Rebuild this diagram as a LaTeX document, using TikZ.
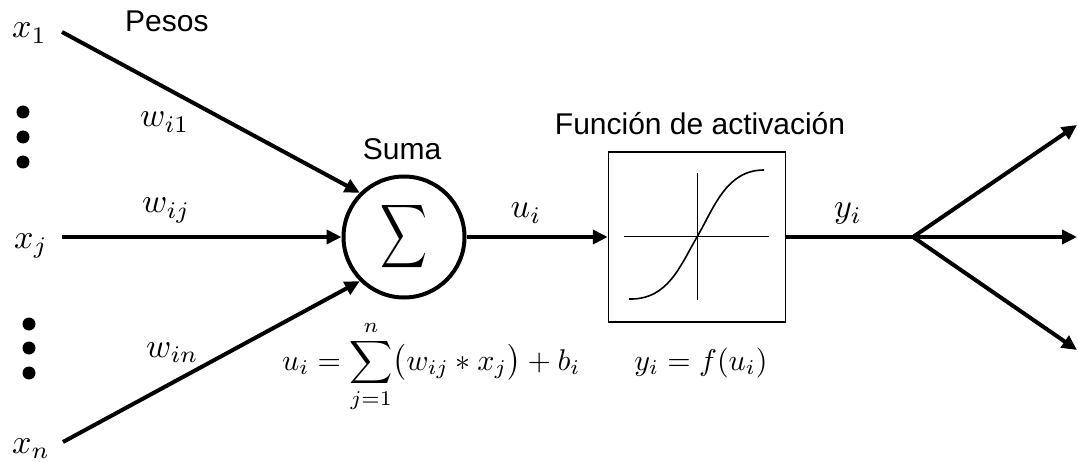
\documentclass[tikz,border=0pt]{standalone}
\usepackage[no-math]{fontspec}
\usepackage{graphicx}
\setmainfont{Liberation Sans}
\usetikzlibrary{arrows.meta}
\newcommand{\mth}[1]{\scalebox{3.0}{$#1$}}
\newcommand{\mlab}[1]{\scalebox{3.4}{$#1$}}
\begin{document}
\begin{tikzpicture}[x=1pt,y=-1pt,
  conn/.style={line width=4pt,-{Triangle[length=15pt,width=14pt]}},
  plain/.style={line width=4pt},
  mlbl/.style={inner sep=0pt},
  txt/.style={font=\fontsize{30}{36}\selectfont, inner sep=0pt},
  dotnode/.style={circle,fill=black,minimum size=13pt,inner sep=0pt},
  sumnode/.style={circle,draw,line width=4pt,minimum size=121pt,inner sep=0pt},
  actbox/.style={draw,line width=1.5pt,minimum width=177pt,minimum height=170pt,inner sep=0pt},
  thin/.style={line width=1pt},
  curve/.style={line width=1.6pt}]
\useasboundingbox (0,0) rectangle (1078,462);

% input labels
\node[mlbl,anchor=base west] (x1) at (12,38) {\mlab{x_1}};
\node[mlbl,anchor=base west] (xj) at (14,248) {\mlab{x_j}};
\node[mlbl,anchor=base west] (xn) at (12,453) {\mlab{x_n}};

% dots
\node[dotnode] (d1) at (23,112) {};
\node[dotnode] (d2) at (23,137) {};
\node[dotnode] (d3) at (23,162) {};
\node[dotnode] (d4) at (29,324) {};
\node[dotnode] (d5) at (29,348) {};
\node[dotnode] (d6) at (29,373) {};

% weights
\node[txt,anchor=base west] (pesos) at (125,32) {Pesos};
\node[mlbl,anchor=base west] (w1) at (140,127) {\mlab{w_{i1}}};
\node[mlbl,anchor=base west] (wj) at (142,213) {\mlab{w_{ij}}};
\node[mlbl,anchor=base west] (wn) at (146,357) {\mlab{w_{in}}};

% summation
\node[sumnode] (sum) at (404,237) {\resizebox*{47pt}{71pt}{$\displaystyle\sum$}};
\node[txt,anchor=base] (suma) at (402,160) {Suma};
\node[mlbl,anchor=base west] (eq1) at (282,370) {\mth{u_i=\displaystyle\sum_{j=1}^{n}\bigl(w_{ij}\ast x_j\bigr)+b_i}};

% activation
\node[actbox] (act) at (697,237) {};
\node[txt,anchor=base] (fa) at (700,135) {Función de activación};
\node[mlbl,anchor=base] (eq2) at (701,370) {\mth{y_i=f(u_i)}};
\draw[thin] (624,237) -- (769,237);
\draw[thin] (697,173) -- (697,300);
\draw[curve] (629,299) .. controls (668,300) and (680,266) .. (697,237)
             .. controls (714,208) and (726,170) .. (764,170);

\node[mlbl,anchor=base] (ui) at (526,218) {\mlab{u_i}};
\node[mlbl,anchor=base] (yi) at (848,218) {\mlab{y_i}};

% connectors
\coordinate (s1) at (62,32);
\coordinate (sj) at (62,237);
\coordinate (sn) at (63,442);
\draw[conn] (s1) -- (sum.135);
\draw[conn] (sj) -- (sum.west);
\draw[conn] (sn) -- (sum.225);
\draw[conn] (sum.east) -- (act.west);

\coordinate (br) at (913,237);
\coordinate (o1) at (1077,125);
\coordinate (o2) at (1077,237);
\coordinate (o3) at (1077,350);
\draw[plain] (act.east) -- (br);
\draw[conn] (br) -- (o1);
\draw[conn] (br) -- (o2);
\draw[conn] (br) -- (o3);
\end{tikzpicture}
\end{document}
